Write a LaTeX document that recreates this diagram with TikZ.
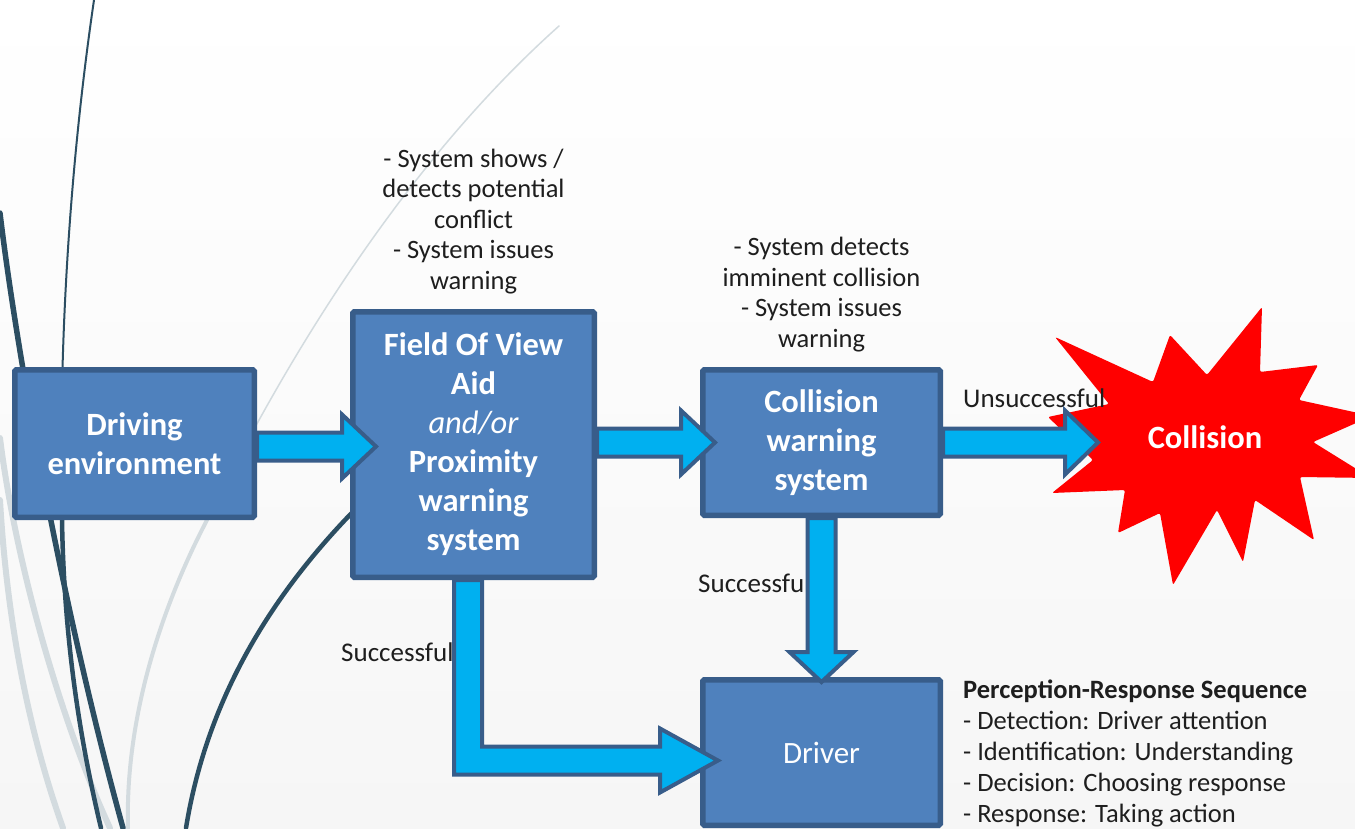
\documentclass[tikz,border=0pt]{standalone}
\usepackage{fontspec}
\setmainfont{Carlito}
\usetikzlibrary{positioning, calc}

\definecolor{boxblue}{HTML}{4F81BD}
\definecolor{boxedge}{HTML}{385D8A}
\definecolor{arrowcyan}{HTML}{00B0F0}
\definecolor{wispdark}{HTML}{2C4E62}
\definecolor{wisplight}{HTML}{D3DBDF}
\definecolor{notegray}{HTML}{1E1E1E}
\definecolor{bgbottom}{HTML}{F6F6F6}

% block arrow pointing right: tail, tip, head length
\newcommand{\blockright}[3]{%
  \draw[blockarrow] ($(#1)+(0,-14)$) -- ($(#2)+(-#3,-14)$) -- ($(#2)+(-#3,-32)$) -- (#2)
    -- ($(#2)+(-#3,32)$) -- ($(#2)+(-#3,14)$) -- ($(#1)+(0,14)$) -- cycle;}
% block arrow pointing down: tail, tip, head length
\newcommand{\blockdown}[3]{%
  \draw[blockarrow] ($(#1)+(-14,0)$) -- ($(#2)+(-14,-#3)$) -- ($(#2)+(-32,-#3)$) -- (#2)
    -- ($(#2)+(32,-#3)$) -- ($(#2)+(14,-#3)$) -- ($(#1)+(14,0)$) -- cycle;}

\begin{document}
\begin{tikzpicture}[x=1pt, y=-1pt,
    box/.style={draw=boxedge, line width=5.5pt, fill=boxblue, text=white, rounded corners=1.5pt,
      align=center, inner sep=0pt, font=\fontsize{32.5}{39}\selectfont\bfseries},
    blockarrow/.style={draw=boxedge, line width=4pt, fill=arrowcyan, line join=miter},
    note/.style={align=center, inner sep=0pt, text=notegray, font=\fontsize{26.5}{30.5}\selectfont},
    flowtag/.style={anchor=west, inner sep=0pt, text=notegray, font=\fontsize{27}{30}\selectfont},
    wisp/.style={line cap=round}]
        \useasboundingbox (0,0) rectangle (1355,828);
        \fill[top color=white, bottom color=bgbottom] (0,0) rectangle (1355,828);
        % background wisps
        \draw[wisp, wisplight, line width=6pt] (0,438) .. controls (15,560) and (60,720) .. (110,828);
        \draw[wisp, wisplight, line width=6pt] (0,500) .. controls (8,640) and (35,750) .. (63,828);
        \draw[wisp, wisplight, line width=1.5pt] (559,26) .. controls (420,150) and (300,330) .. (207,520);
        \draw[wisp, wisplight, line width=4pt] (207,520) .. controls (160,610) and (125,720) .. (128,828);
        \draw[wisp, wispdark, line width=2pt] (94,0) .. controls (72,150) and (58,330) .. (62,520);
        \draw[wisp, wispdark, line width=4.5pt] (62,520) .. controls (64,640) and (80,740) .. (101,828);
        \draw[wisp, wispdark, line width=5.5pt] (0,213) .. controls (15,340) and (60,600) .. (123,828);
        \draw[wisp, wispdark, line width=4.5pt] (380,485) .. controls (290,570) and (210,680) .. (186,828);

        \node[box, minimum width=239.5pt, minimum height=147.5pt] (drive) at (134.5,443.5) {Driving\\environment};
        \node[box, minimum width=241.5pt, minimum height=265.5pt] (fov) at (473.5,444.5) {Field Of View\\Aid\\{\mdseries\itshape and/or}\\Proximity\\warning\\system};
        \node[box, minimum width=237.5pt, minimum height=145.5pt] (cws) at (821.5,442.5) {Collision\\warning\\system};
        \node[box, font=\fontsize{31}{36}\selectfont, minimum width=237.5pt, minimum height=145.5pt] (driver) at (821.5,752.5) {Driver};

        % explosion
        \coordinate (crashc) at (1205,437);
        \fill[red, rounded corners=2pt, shift={(crashc)}] (-150,-100) -- (-52,-55) -- (-35,-102) -- (2,-62) -- (57,-130) -- (55,-65)
          -- (113,-72) -- (94,-37) -- (167,-21) -- (108,5) -- (166,41) -- (95,40) -- (109,103) -- (50,63) -- (38,125)
          -- (12,73) -- (-32,148) -- (-45,76) -- (-87,96) -- (-80,53) -- (-153,56) -- (-112,23) -- (-157,-20) -- (-96,-33) -- cycle;
        \node[text=white, font=\fontsize{32.5}{36}\selectfont\bfseries] (crash) at (crashc) {Collision};

        \node[note, above=15pt of fov] (fovnote) {- System shows /\\detects potential\\conflict\\- System issues\\warning};
        \node[note, above=15pt of cws] (cwsnote) {- System detects\\imminent collision\\- System issues\\warning};
        \node[flowtag] (unsucc) at (963,398) {Unsuccessful};
        \node[flowtag] (succfov) at (341,652) {Successful};
        \node[flowtag] (succcws) at (698,583) {Successful};
        \node[anchor=north west, align=left, inner sep=0pt, text=notegray, font=\fontsize{26.5}{31}\selectfont] (prs) at (963,680)
          {\textbf{Perception-Response Sequence}\\- Detection: Driver attention\\- Identification: Understanding\\- Decision: Choosing response\\- Response: Taking action};

        % arrows
        \coordinate (s1) at ($(drive.east)+(0,3)$);
        \coordinate (t1) at ($(fov.west |- s1)+(26,0)$);
        \blockright{s1}{t1}{34}
        \coordinate (s2) at (fov.east |- cws.west);
        \coordinate (t2) at ($(cws.west)+(15,0)$);
        \blockright{s2}{t2}{34}
        \coordinate (t3) at ($(cws.east -| crashc)+(-107,0)$);
        \blockright{cws.east}{t3}{33}
        \coordinate (t4) at ($(driver.north)+(0,5)$);
        \blockdown{cws.south}{t4}{30}
        \coordinate (s5) at ($(fov.south)+(-5.5,0)$);
        \coordinate (t5) at ($(driver.west)+(18,8)$);
        \draw[blockarrow] ($(s5)+(-14,0)$) -- ($(s5 |- t5)+(-14,14)$) -- ($(t5)+(-58,14)$) -- ($(t5)+(-58,32)$) -- (t5)
          -- ($(t5)+(-58,-32)$) -- ($(t5)+(-58,-14)$) -- ($(s5 |- t5)+(14,-14)$) -- ($(s5)+(14,0)$) -- cycle;
\end{tikzpicture}
\end{document}
